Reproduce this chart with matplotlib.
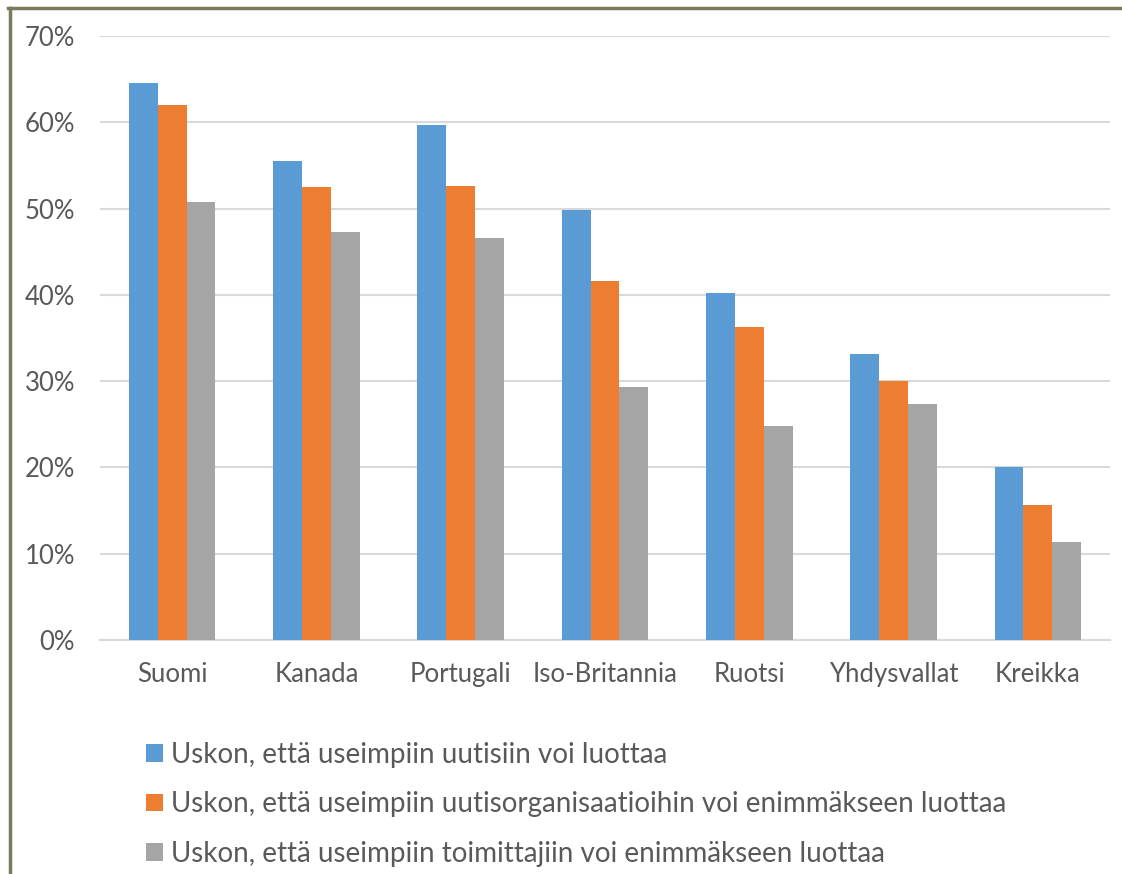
import numpy as np
import matplotlib
matplotlib.use("Agg")
import matplotlib.pyplot as plt
from matplotlib.lines import Line2D
from matplotlib.ticker import FuncFormatter

# Maat ja luottamusosuudet (%)
maat = ["Suomi", "Kanada", "Portugali", "Iso-Britannia", "Ruotsi", "Yhdysvallat", "Kreikka"]
uutisiin = [64.5, 55.5, 59.7, 49.8, 40.2, 33.2, 20.1]
organisaatioihin = [62.0, 52.5, 52.6, 41.6, 36.3, 30.0, 15.6]
toimittajiin = [50.8, 47.3, 46.6, 29.3, 24.8, 27.3, 11.4]

sarjat = [
    "Uskon, että useimpiin uutisiin voi luottaa",
    "Uskon, että useimpiin uutisorganisaatioihin voi enimmäkseen luottaa",
    "Uskon, että useimpiin toimittajiin voi enimmäkseen luottaa",
]
varit = ["#5B9BD5", "#ED7D31", "#A5A5A5"]
tekstivari = "#595959"

plt.rcParams["font.family"] = ["Lato", "DejaVu Sans"]

fig = plt.figure(figsize=(11.22, 8.74), dpi=100)
ax = fig.add_axes([100 / 1122, 234 / 874, 1010 / 1122, 604 / 874])

x = np.arange(len(maat))
w = 0.2
for i, (arvot, nimi, vari) in enumerate(zip([uutisiin, organisaatioihin, toimittajiin], sarjat, varit)):
    ax.bar(x + (i - 1) * w, arvot, width=w, color=vari, label=nimi, zorder=3)

ax.set_xlim(-0.5, len(maat) - 0.5)
ax.set_ylim(0, 70)
ax.set_yticks(np.arange(0, 71, 10))
ax.yaxis.set_major_formatter(FuncFormatter(lambda v, p: f"{v:.0f}%"))
ax.set_xticks(x)
ax.set_xticklabels(maat)
ax.grid(axis="y", color="#D9D9D9", linewidth=1.5, zorder=0)
for s in ["top", "right", "left"]:
    ax.spines[s].set_visible(False)
ax.spines["bottom"].set_color("#D9D9D9")
ax.spines["bottom"].set_linewidth(1.5)
ax.tick_params(axis="both", length=0, labelsize=18.5, colors=tekstivari)
ax.tick_params(axis="x", pad=16)
ax.tick_params(axis="y", pad=18)

fig.legend(loc="upper left", bbox_to_anchor=(146 / 1122, 1 - 742 / 874),
           frameon=False, fontsize=20, labelcolor=tekstivari,
           handlelength=0.6, handleheight=0.6, handletextpad=0.3,
           labelspacing=0.84, borderaxespad=0, borderpad=0)

# kehys (vasen ja ylä)
reuna = "#7B7A5A"
fig.add_artist(Line2D([9.5 / 1122, 9.5 / 1122], [0, 1 - 7.5 / 874], color=reuna, linewidth=2.5,
                      transform=fig.transFigure))
fig.add_artist(Line2D([8 / 1122, 1], [1 - 7.5 / 874, 1 - 7.5 / 874], color=reuna, linewidth=2.5,
                      transform=fig.transFigure))

fig.savefig("out.png", dpi=100)
